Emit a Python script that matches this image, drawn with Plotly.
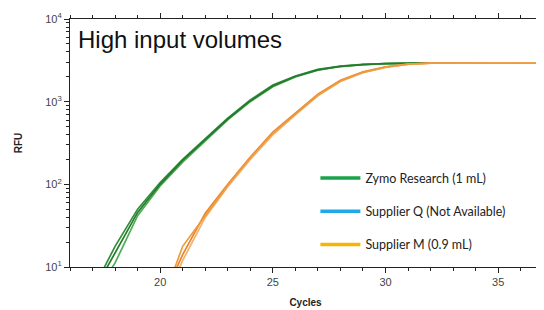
import plotly.graph_objects as go

# ---- data ----
green_cycles = [17, 18, 19, 20, 21, 22, 23, 24, 25, 26, 27, 28, 29, 30, 31, 32, 33, 34, 35, 36, 37]
zymo_rep1 = [5.2, 17.8, 50.1, 105, 200, 355, 631, 1047, 1585, 2042, 2455, 2692, 2818, 2884, 2931, 2938, 2938, 2938, 2938, 2938, 2938]
zymo_rep2 = [4.2, 11.2, 41.7, 95.5, 186, 339, 603, 1000, 1514, 1995, 2399, 2661, 2805, 2884, 2924, 2938, 2938, 2938, 2938, 2938, 2938]
zymo_rep3 = [4.8, 15.1, 45.7, 100, 195, 347, 617, 1023, 1549, 2018, 2427, 2679, 2812, 2884, 2924, 2938, 2938, 2938, 2938, 2938, 2938]

orange_cycles = [20, 21, 22, 23, 24, 25, 26, 27, 28, 29, 30, 31, 32, 33, 34, 35, 36, 37]
supm_rep1 = [3.5, 14.1, 44.7, 100, 214, 427, 724, 1230, 1820, 2291, 2630, 2851, 2924, 2938, 2938, 2938, 2938, 2938]
supm_rep2 = [2.8, 12.0, 39.8, 93.3, 200, 398, 692, 1175, 1758, 2239, 2600, 2831, 2917, 2938, 2938, 2938, 2938, 2938]
supm_rep3 = [3.2, 17.8, 41.7, 97.7, 209, 417, 708, 1202, 1778, 2265, 2618, 2844, 2924, 2938, 2938, 2938, 2938, 2938]

legend_names = ["Zymo Research (1 mL)", "Supplier Q (Not Available)", "Supplier M (0.9 mL)"]
legend_colors = ["#1aa34a", "#1eaae7", "#f7b500"]

x_ticks = [20, 25, 30, 35]
y_ticks = [10, 100, 1000, 10000]
y_ticktext = ["10<sup>1</sup>", "10<sup>2</sup>", "10<sup>3</sup>", "10<sup>4</sup>"]
y_minor = [m * d for d in [10, 100, 1000] for m in range(2, 10)]

fig = go.Figure()

for ys, col in [(zymo_rep1, "#2f8f3a"), (zymo_rep2, "#4cae52"), (zymo_rep3, "#257a2e")]:
    fig.add_trace(go.Scatter(x=green_cycles, y=ys, mode="lines",
                             line=dict(color=col, width=1.7), showlegend=False))
for ys, col in [(supm_rep1, "#e8862a"), (supm_rep2, "#f3b070"), (supm_rep3, "#ee9a3e")]:
    fig.add_trace(go.Scatter(x=orange_cycles, y=ys, mode="lines",
                             line=dict(color=col, width=1.7), showlegend=False))

for i, (nm, col) in enumerate(zip(legend_names, legend_colors)):
    fig.add_trace(go.Scatter(x=[None], y=[None], mode="lines", name=nm,
                             legendgroup=f"g{i}",
                             line=dict(color=col, width=3.5)))

fig.update_layout(
    width=536, height=302,
    margin=dict(l=62, r=3, t=8, b=43),
    paper_bgcolor="white", plot_bgcolor="white",
    font=dict(family="Liberation Sans, Arial, sans-serif", color="#333"),
    showlegend=True,
    legend=dict(x=0.521, y=0.418, xanchor="left", yanchor="top",
                bgcolor="rgba(0,0,0,0)", tracegroupgap=14,
                font=dict(family="Lato, Liberation Sans, sans-serif", size=12.5, color="#222"),
                itemwidth=40),
    annotations=[dict(text="High input volumes", x=0.012, y=0.978, xref="paper", yref="paper",
                      xanchor="left", yanchor="top", showarrow=False,
                      font=dict(family="Liberation Sans, Arial, sans-serif", size=24, color="#111"))],
    shapes=[dict(type="line", xref="paper", yref="paper", x0=1, x1=1, y0=0, y1=1,
                 line=dict(color="#bbbbbb", width=1, dash="dot"))],
)

fig.update_xaxes(range=[16, 36.9], tickvals=x_ticks, ticks="outside", ticklen=5,
                 tickcolor="#222", linecolor="#222", linewidth=1.2, showline=True,
                 mirror="ticks", showgrid=False, zeroline=False,
                 tickfont=dict(size=11, color="#444"),
                 minor=dict(dtick=1, ticks="outside", ticklen=3, tickcolor="#222"),
                 title=dict(text="<b>Cycles</b>", font=dict(size=10, color="#222"), standoff=11))
fig.update_yaxes(type="log", range=[1, 4], tickvals=y_ticks, ticktext=y_ticktext,
                 ticks="outside", ticklen=5, tickcolor="#222", linecolor="#222", linewidth=1.2,
                 showline=True, showgrid=False, zeroline=False,
                 tickfont=dict(size=11, color="#444"),
                 minor=dict(tickvals=y_minor, ticks="outside", ticklen=3, tickcolor="#222"),
                 title=dict(text="<b>RFU</b>", font=dict(size=10, color="#222"), standoff=20))

fig.write_html("out.html")
